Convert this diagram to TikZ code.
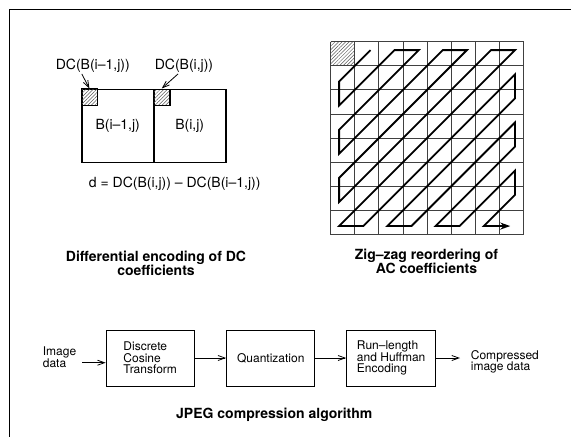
\documentclass[tikz,border=0pt]{standalone}
\usepackage{fontspec}
\setmainfont{TeX Gyre Heros}
\usetikzlibrary{arrows.meta,patterns.meta}
\begin{document}
\begin{tikzpicture}[x=1pt,y=-1pt,
  lbl/.style={font=\fontsize{14}{14}\selectfont, inner sep=1pt},
  captxt/.style={font=\bfseries\fontsize{14}{14}\selectfont, align=center, inner sep=0pt},
  ftxt/.style={font=\fontsize{12}{11.7}\selectfont, align=left, inner sep=0pt},
  fbox/.style={draw, line width=1pt, minimum height=56pt, font=\fontsize{12}{11.7}\selectfont, align=left, inner sep=0pt},
  blk/.style={draw, line width=1.6pt, minimum width=72pt, minimum height=73pt, font=\fontsize{14}{14}\selectfont, inner sep=0pt},
  hatch/.style={draw, line width=1.2pt, minimum size=16.5pt, inner sep=0pt, pattern={Lines[angle=45,distance=2.5pt,line width=0.5pt]}, pattern color=black!65},
  barb/.style={-{Straight Barb[length=7pt,width=5pt]}, line width=0.8pt},
  gridl/.style={line width=1pt, black!75},
  zz/.style={line width=1.8pt, -{Stealth[length=10pt,width=7pt]}},
]
\useasboundingbox (0,0) rectangle (571,437);
% frame
\draw[line width=1.6pt] (571,9.5) -- (9.5,9.5) -- (9.5,437);

% differential encoding
\node[blk] (bA) at (117.7,125.8) {B(i–1,j)};
\node[blk] (bB) at (189.7,125.8) {B(i,j)};
\node[hatch, anchor=north west] (hA) at (bA.north west) {};
\node[hatch, anchor=north west] (hB) at (bB.north west) {};
\node[lbl] (dcl) at (92.8,66) {DC(B(i–1,j))};
\node[lbl] (dcr) at (184,66) {DC(B(i,j))};
\draw[barb] ([xshift=-11pt]dcl.south) -- (hA.north);
\draw[barb] ([xshift=-6pt]dcr.south) -- (hB.north);
\node[lbl] (eq) at (174.7,183.3) {d = DC(B(i,j)) – DC(B(i–1,j))};
\node[captxt] (c1) at (156,263) {Differential encoding of DC\\coefficients};

% zig-zag grid
\begin{scope}[shift={(330.7,41.7)}, x=24.1pt, y=-24.1pt]
  \fill[pattern={Lines[angle=45,distance=2.5pt,line width=0.5pt]}, pattern color=black!65] (0,0) rectangle (1,1);
  \foreach \i in {0,...,8} {
    \draw[gridl] (\i,0) -- (\i,8);
    \draw[gridl] (0,\i) -- (8,\i);
  }
  \draw[zz] (1.65,0.35) -- (0.35,1.65) -- (0.35,2.65) -- (2.65,0.35) -- (3.65,0.35)
    -- (0.35,3.65) -- (0.35,4.65) -- (4.65,0.35) -- (5.65,0.35) -- (0.35,5.65)
    -- (0.35,6.65) -- (6.65,0.35) -- (7.65,0.35) -- (0.35,7.65) -- (1.35,7.65)
    -- (7.65,1.35) -- (7.65,2.35) -- (2.35,7.65) -- (3.35,7.65) -- (7.65,3.35)
    -- (7.65,4.35) -- (4.35,7.65) -- (5.35,7.65) -- (7.65,5.35) -- (7.65,6.35)
    -- (6.35,7.65) -- (7.45,7.65);
\end{scope}
\node[captxt] (c2) at (426.5,261.7) {Zig–zag reordering of\\AC coefficients};

% flowchart
\node[fbox, minimum width=88pt] (dct) at (150.2,358) {Discrete\\Cosine\\Transform};
\node[fbox, minimum width=88.3pt] (qua) at (270.8,358) {Quantization};
\node[fbox, minimum width=89pt] (rle) at (391.2,358) {Run–length\\and Huffman\\Encoding};
\node[ftxt, anchor=west] (img) at (42.7,357.5) {Image\\data};
\node[ftxt, anchor=west] (out) at (470.7,361.7) {Compressed\\image data};
\coordinate (ay) at (0,362.7);
\coordinate (imgA) at ([xshift=6pt]img.east);
\coordinate (outA) at ([xshift=-10.7pt]out.west);
\draw[barb] (imgA |- ay) -- (dct.west |- ay);
\draw[barb] (dct) -- (qua);
\draw[barb] (qua) -- (rle);
\draw[barb] (rle.east) -- (rle.east -| outA);
\node[captxt] (c3) at (274.3,415) {JPEG compression algorithm};
\end{tikzpicture}
\end{document}
